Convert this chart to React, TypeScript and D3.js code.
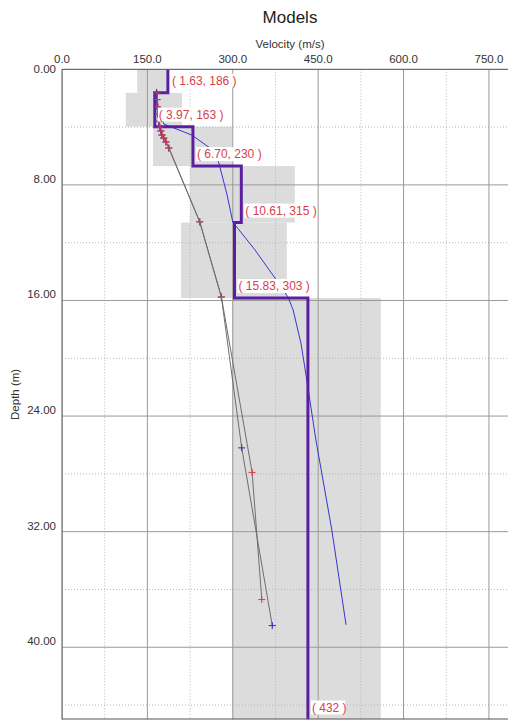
import React from "react";
import * as d3 from "d3";

// Layered model: bottom depth of each layer (m) and velocity (m/s)
const layerBottoms = [1.63, 3.97, 6.7, 10.61, 15.83, 45];
const layerVelocities = [186, 163, 230, 315, 303, 432];
const layerLabels = ["( 1.63, 186 )", "( 3.97, 163 )", "( 6.70, 230 )", "( 10.61, 315 )", "( 15.83, 303 )", "( 432 )"];

// Uncertainty ranges for each layer (velocity min / max)
const rangeVMin = [132, 112, 160, 225, 209, 299];
const rangeVMax = [186, 211, 299, 409, 395, 560];

// Smooth model (blue curve)
const smoothVel = [167, 168.6, 179, 228, 260, 274, 281, 290, 300, 339, 374, 397, 406, 420, 430, 446, 474, 499];
const smoothDepth = [1.57, 2.82, 3.79, 4.55, 5.45, 6.28, 7.31, 8.7, 10.57, 12.5, 14.44, 15.76, 16.65, 19.0, 21.5, 25.65, 31.88, 38.45];

// Dispersion points (red: observed, blue: theoretical)
const obsVel = [167, 167.5, 168.5, 169.5, 170.5, 172, 174, 176, 179, 183, 188, 242, 280, 334, 351];
const obsDepth = [1.64, 2.1, 2.6, 3.1, 3.6, 4.0, 4.27, 4.55, 4.76, 5.03, 5.45, 10.56, 15.76, 27.9, 36.7];
const theoVel = [166, 166.5, 167, 168, 169.5, 171.5, 173.5, 175.5, 178.5, 182.5, 187.5, 242, 280, 315.7, 369.4];
const theoDepth = [1.6, 2.1, 2.6, 3.1, 3.6, 4.0, 4.27, 4.55, 4.76, 5.03, 5.45, 10.56, 15.76, 26.2, 38.5];

const xMajorTicks = [0, 150, 300, 450, 600, 750];
const xMinorTicks = [75, 225, 375, 525, 675];
const yMajorTicks = [0, 8, 16, 24, 32, 40];
const yMinorTicks = [4, 12, 20, 28, 36, 44];

const W = 508;
const H = 720;
const left = 62;
const top = 69.3;
const right = 517.4;
const bottom = 719.5;

export default function App() {
  const x = d3.scaleLinear().domain([0, 800]).range([left, right]);
  const y = d3.scaleLinear().domain([0, 45]).range([top, bottom]);

  const layerTops = layerBottoms.map((_, i) => (i === 0 ? 0 : layerBottoms[i - 1]));

  const stepPts: [number, number][] = [];
  layerVelocities.forEach((v, i) => {
    stepPts.push([v, layerTops[i]]);
    stepPts.push([v, layerBottoms[i]]);
  });
  const line = d3
    .line<[number, number]>()
    .x((d) => x(d[0]))
    .y((d) => y(d[1]));

  const smoothPts = smoothVel.map((v, i) => [v, smoothDepth[i]] as [number, number]);
  const obsPts = obsVel.map((v, i) => [v, obsDepth[i]] as [number, number]);
  const theoPts = theoVel.map((v, i) => [v, theoDepth[i]] as [number, number]);

  const font = "Arial, 'Liberation Sans', sans-serif";
  const plus = (px: number, py: number, color: string, key: string) => (
    <g key={key} stroke={color} strokeWidth={1}>
      <line x1={px - 3.5} x2={px + 3.5} y1={py} y2={py} />
      <line x1={px} x2={px} y1={py - 3.5} y2={py + 3.5} />
    </g>
  );

  return (
    <svg
      width={W}
      height={H}
      style={{ position: "absolute", left: 0, top: 0, background: "#fff" }}
      fontFamily={font}
    >
      <defs>
        <clipPath id="plot">
          <rect x={left} y={top} width={right - left} height={bottom - top} />
        </clipPath>
      </defs>
      <text x={290} y={23} textAnchor="middle" fontSize={17} fill="#222">
        Models
      </text>
      <text x={290} y={48} textAnchor="middle" fontSize={11.5} fill="#333">
        Velocity (m/s)
      </text>
      {xMajorTicks.map((t) => (
        <text key={"xt" + t} x={x(t)} y={63} textAnchor="middle" fontSize={11.5} fill="#333">
          {t.toFixed(1)}
        </text>
      ))}
      {yMajorTicks.map((t, i) => (
        <text
          key={"yt" + t}
          x={56}
          y={i === 0 ? y(t) + 4 : y(t) - 2}
          textAnchor="end"
          fontSize={11.5}
          fill="#333"
        >
          {t.toFixed(2)}
        </text>
      ))}
      <text
        transform={`translate(19, ${(top + bottom) / 2}) rotate(-90)`}
        textAnchor="middle"
        fontSize={11.5}
        fill="#333"
      >
        Depth (m)
      </text>

      <g clipPath="url(#plot)">
        {layerVelocities.map((_, i) => (
          <rect
            key={"r" + i}
            x={x(rangeVMin[i])}
            y={y(layerTops[i])}
            width={x(rangeVMax[i]) - x(rangeVMin[i])}
            height={y(layerBottoms[i]) - y(layerTops[i])}
            fill="#dcdcdc"
          />
        ))}
        {xMinorTicks.map((t) => (
          <line key={"xm" + t} x1={x(t)} x2={x(t)} y1={top} y2={bottom} stroke="#b8b8b8" strokeDasharray="1,2" />
        ))}
        {yMinorTicks.map((t) => (
          <line key={"ym" + t} x1={left} x2={right} y1={y(t)} y2={y(t)} stroke="#b8b8b8" strokeDasharray="1,2" />
        ))}
        {xMajorTicks.map((t) => (
          <line key={"xg" + t} x1={x(t)} x2={x(t)} y1={top} y2={bottom} stroke="#999" />
        ))}
        {yMajorTicks.map((t) => (
          <line key={"yg" + t} x1={left} x2={right} y1={y(t)} y2={y(t)} stroke="#999" />
        ))}

        <path d={line(obsPts) || ""} fill="none" stroke="#6e6e6e" strokeWidth={1} />
        <path d={line(theoPts) || ""} fill="none" stroke="#6e6e6e" strokeWidth={1} />
        <path d={line(smoothPts) || ""} fill="none" stroke="#3535d0" strokeWidth={1} />
        <path d={line(stepPts) || ""} fill="none" stroke="#5b1ea0" strokeWidth={3} />

        {theoPts.map((p, i) => plus(x(p[0]), y(p[1]), "#2a2ac0", "tp" + i))}
        {obsPts.map((p, i) => plus(x(p[0]), y(p[1]), "#e03a3a", "op" + i))}

        {layerLabels.map((lab, i) => {
          const lx = x(layerVelocities[i]) + 4;
          const ly = y(layerBottoms[i]) - 12;
          const w = lab.length * 4.9;
          return (
            <g key={"lab" + i}>
              <rect x={lx - 1} y={ly - 7} width={w} height={14} fill="#fff" />
              <text x={lx} y={ly + 4.2} fontSize={12} fill="#d9404a">
                {lab}
              </text>
            </g>
          );
        })}
      </g>

      <line x1={left} x2={left} y1={top} y2={bottom} stroke="#555" />
      <line x1={left} x2={right} y1={top} y2={top} stroke="#555" />
      <line x1={left} x2={right} y1={bottom - 0.5} y2={bottom - 0.5} stroke="#555" />
    </svg>
  );
}
